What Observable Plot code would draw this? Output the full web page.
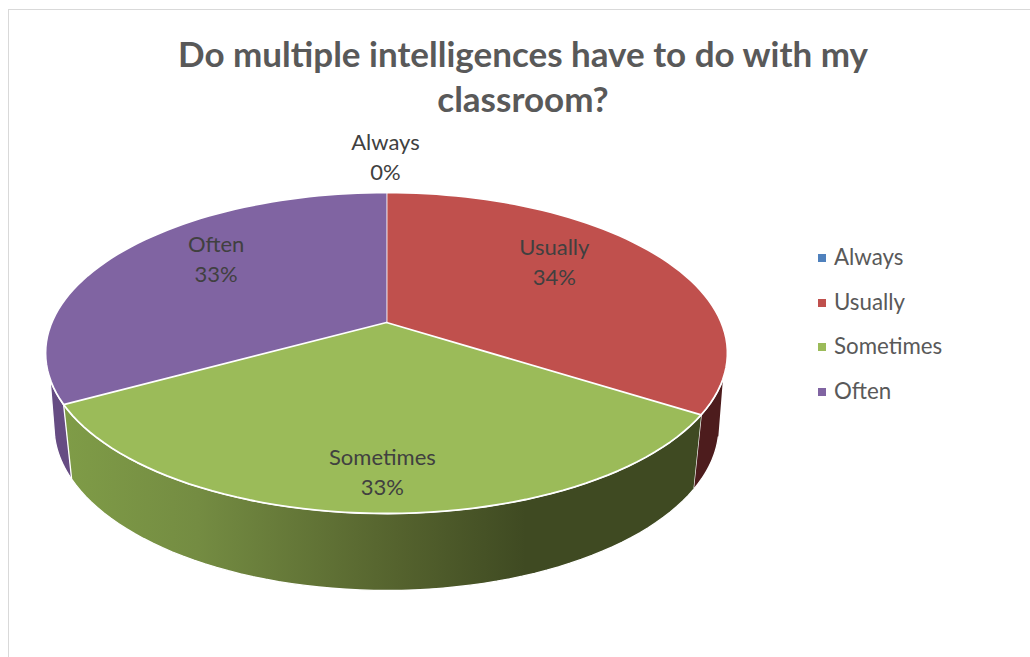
<!DOCTYPE html>
<html>
<head>
<meta charset="utf-8">
<script src="https://cdn.jsdelivr.net/npm/d3@7"></script>
<script src="https://cdn.jsdelivr.net/npm/@observablehq/plot@0.6"></script>
<style>
  html, body { margin: 0; padding: 0; background: #fff; }
  #chart { position: relative; width: 1022px; height: 648px; margin: 9px 0 0 8px;
           border-top: 1.5px solid #d9d9d9; border-left: 1.5px solid #d9d9d9; box-sizing: border-box;
           overflow: hidden; font-family: Lato, sans-serif; }
  #title { position: absolute; left: -1px; top: 21px; width: 1030px; text-align: center;
           font-size: 35px; line-height: 45px; font-weight: 700; color: #595959; }
  #plot { position: absolute; left: -9.5px; top: 114px; }
  #legend { position: absolute; left: 809px; top: 225px; color: #595959; font-size: 22.3px; }
  #legend div { height: 44.7px; line-height: 44.7px; white-space: nowrap; }
  #legend i { display: inline-block; width: 8px; height: 8px; margin-right: 8px; vertical-align: 3px; }
</style>
</head>
<body>
<div id="chart">
  <div id="title">Do multiple intelligences have to do with my<br>classroom?</div>
  <div id="plot"></div>
  <div id="legend"></div>
</div>
<script>
// Survey answers, in the order they go round the pie from twelve o'clock.
const categories = ["Always", "Usually", "Sometimes", "Often"];
const shares = [0, 34, 33, 33];
const faceColors = ["#4f81bd", "#c0504d", "#9bbb59", "#8064a2"];
const wallColors = ["#2f4d71", "#4d1c1d", "url(#wallShade)", "#664c83"];

// Tilted-disc projection. Units are disc radii, origin at the pie's centre.
const perspective = 0.19;
const topRim = {a: 0.4537, b: 0.9817, drop: 0};
const bottomRim = {a: 0.4633, b: 0.9572, drop: 0.2138};
const project = (angle, radius, rim) => {
  const u = radius * Math.sin(angle), v = radius * Math.cos(angle);
  const w = 1 + perspective * v;
  return {x: rim.b * u / w, y: rim.a * v / w - rim.drop};
};
const rad = (deg) => deg * Math.PI / 180;
const arc = (from, to, rim) =>
  d3.range(61).map((i) => project(from + (to - from) * i / 60, 1, rim));

const slices = d3.pie().sort(null).value((d) => d)(shares);

// The flat top of each slice: centre point, then the rim.
const faces = slices.flatMap((s, i) =>
  [project(0, 0, topRim), ...arc(s.startAngle, s.endAngle, topRim)]
    .map((p) => ({...p, name: categories[i]})));

// The wall shows only on the front of the disc, and the silhouette runs
// straight from the upper rim to the lower one at these bearings.
const frontTop = [rad(110), rad(250)];
const frontBottom = [rad(104.5), rad(255.5)];
const clamp = (a, [lo, hi]) => Math.min(hi, Math.max(lo, a));
const wallOf = (s) => [
  ...arc(clamp(s.startAngle, frontTop), clamp(s.endAngle, frontTop), topRim),
  ...arc(clamp(s.endAngle, frontBottom), clamp(s.startAngle, frontBottom), bottomRim)
];

// Back walls first so the large front wall sits over their edges.
const wallOrder = [1, 3, 2].filter((i) => slices[i].endAngle > slices[i].startAngle);
const wallMarks = wallOrder.map((i) =>
  Plot.line(wallOf(slices[i]), {x: "x", y: "y", fill: wallColors[i], stroke: "white", strokeWidth: 1.3}));

// Label anchors sit on the disc at mid-slice, then shift to their resting spot.
const labelRadius = [1, 0.6, 0.6, 0.6];
const labelShift = [[-1, -37], [1, -19.5], [3, 43.5], [-7, -20.5]];
const labels = slices.map((s, i) => ({
  ...project((s.startAngle + s.endAngle) / 2, labelRadius[i], topRim),
  text: `${categories[i]}\n${shares[i]}%`,
  dx: labelShift[i][0],
  dy: labelShift[i][1]
}));

const unit = 341, width = 1030, height = 532, originX = 386, originY = 198;

const gradient = () => {
  const defs = d3.create("svg:defs");
  const g = defs.append("linearGradient").attr("id", "wallShade");
  [[0, "#7f9c47"], [0.21, "#748c42"], [0.52, "#55632e"], [0.725, "#3f4a22"], [1, "#3f4a22"]]
    .forEach(([o, c]) => g.append("stop").attr("offset", o).attr("stop-color", c));
  return defs.node();
};

const chart = Plot.plot({
  width, height,
  margin: 0,
  style: {background: "transparent", overflow: "visible"},
  x: {domain: [-originX / unit, (width - originX) / unit], range: [0, width], axis: null},
  y: {domain: [originY / unit, (originY - height) / unit], range: [0, height], axis: null},
  color: {domain: categories, range: faceColors},
  marks: [
    gradient,
    ...wallMarks,
    Plot.line(faces, {x: "x", y: "y", z: "name", fill: "name", stroke: "white", strokeWidth: 1.8, strokeLinejoin: "round"}),
    ...labels.map((l) => Plot.text([l], {
      x: "x", y: "y", text: "text", dx: l.dx, dy: l.dy,
      fontSize: 22, lineHeight: 1.36, fill: "#404040", fontFamily: "Lato, sans-serif"
    }))
  ]
});
document.getElementById("plot").append(chart);

// Key to the slice colours, read back from the chart's colour scale.
const swatch = chart.scale("color");
d3.select("#legend").selectAll("div").data(categories).join("div")
  .html((d) => `<i style="background:${swatch.apply(d)}"></i>${d}`);
</script>
</body>
</html>
